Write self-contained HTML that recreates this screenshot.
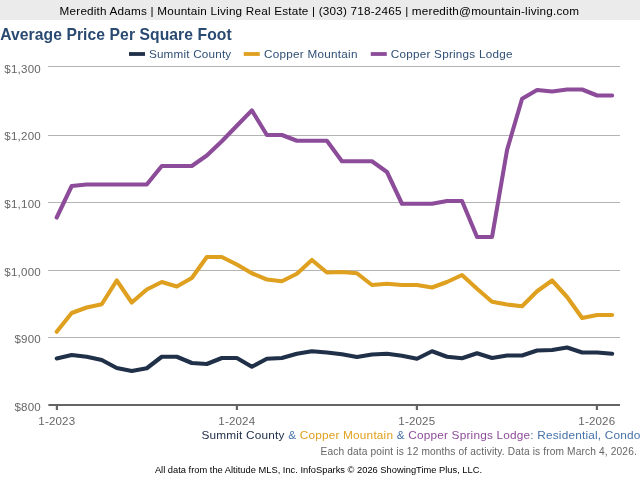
<!DOCTYPE html>
<html><head><meta charset="utf-8"><title>Average Price Per Square Foot</title>
<style>
html,body{margin:0;padding:0;background:#fff;}
body{width:640px;height:480px;overflow:hidden;}
svg{display:block;font-family:"Liberation Sans",Arial,Helvetica,sans-serif;}
svg text{white-space:pre;}
</style></head><body>
<svg width="640" height="480" viewBox="0 0 640 480">
<rect x="0" y="0" width="640" height="20" fill="#ebebeb"/>
<text x="59.6" y="14.6" font-size="11.72" letter-spacing="0.201" fill="#000">Meredith Adams | Mountain Living Real Estate | (303) 718-2465 | meredith@mountain-living.com</text>
<text x="0.2" y="39.5" font-size="15.66" letter-spacing="0.084" font-weight="bold" fill="#2a4a71">Average Price Per Square Foot</text>
<line x1="48" x2="620" y1="66.5" y2="66.5" stroke="#b4b4b4" stroke-width="1"/>
<line x1="48" x2="620" y1="135.5" y2="135.5" stroke="#b4b4b4" stroke-width="1"/>
<line x1="48" x2="620" y1="202.5" y2="202.5" stroke="#b4b4b4" stroke-width="1"/>
<line x1="48" x2="620" y1="270.5" y2="270.5" stroke="#b4b4b4" stroke-width="1"/>
<line x1="48" x2="620" y1="337.5" y2="337.5" stroke="#b4b4b4" stroke-width="1"/>
<rect x="48.4" y="404" width="571.6" height="2" fill="#646464"/>
<rect x="55.80" y="404" width="2.2" height="6" fill="#646464"/>
<text x="56.8" y="424.5" text-anchor="middle" font-size="11.55" letter-spacing="0.17" fill="#666">1-2023</text>
<rect x="235.80" y="404" width="2.2" height="6" fill="#646464"/>
<text x="236.8" y="424.5" text-anchor="middle" font-size="11.55" letter-spacing="0.17" fill="#666">1-2024</text>
<rect x="415.80" y="404" width="2.2" height="6" fill="#646464"/>
<text x="416.8" y="424.5" text-anchor="middle" font-size="11.55" letter-spacing="0.17" fill="#666">1-2025</text>
<rect x="595.80" y="404" width="2.2" height="6" fill="#646464"/>
<text x="596.8" y="424.5" text-anchor="middle" font-size="11.55" letter-spacing="0.17" fill="#666">1-2026</text>
<text x="40.9" y="72.90" text-anchor="end" font-size="11.55" letter-spacing="0.2" fill="#666">$1,300</text>
<text x="40.9" y="140.45" text-anchor="end" font-size="11.55" letter-spacing="0.2" fill="#666">$1,200</text>
<text x="40.9" y="208.00" text-anchor="end" font-size="11.55" letter-spacing="0.2" fill="#666">$1,100</text>
<text x="40.9" y="275.55" text-anchor="end" font-size="11.55" letter-spacing="0.2" fill="#666">$1,000</text>
<text x="40.9" y="343.10" text-anchor="end" font-size="11.55" letter-spacing="0.2" fill="#666">$900</text>
<text x="40.9" y="410.65" text-anchor="end" font-size="11.55" letter-spacing="0.2" fill="#666">$800</text>
<path d="M56.70 358.40 L71.71 355.00 L86.72 356.75 L101.74 360.00 L116.75 368.00 L131.76 371.00 L146.77 368.25 L161.78 356.75 L176.80 356.75 L191.81 363.00 L206.82 364.00 L221.83 358.00 L236.84 358.00 L251.86 366.75 L266.87 358.75 L281.88 358.00 L296.89 353.75 L311.90 351.25 L326.92 352.50 L341.93 354.25 L356.94 357.00 L371.95 354.50 L386.96 353.75 L401.98 355.75 L416.99 358.75 L432.00 351.25 L447.01 356.75 L462.02 358.25 L477.04 353.25 L492.05 358.00 L507.06 355.50 L522.07 355.50 L537.08 350.50 L552.10 350.00 L567.11 347.50 L582.12 352.50 L597.13 352.50 L612.14 353.75" fill="none" stroke="#203049" stroke-width="4.1" stroke-linejoin="round" stroke-linecap="round"/>
<path d="M56.70 331.75 L71.71 313.00 L86.72 307.50 L101.74 304.25 L116.75 280.50 L131.76 302.50 L146.77 289.50 L161.78 282.00 L176.80 286.50 L191.81 278.00 L206.82 257.00 L221.83 257.00 L236.84 264.50 L251.86 273.25 L266.87 279.50 L281.88 281.25 L296.89 273.75 L311.90 260.00 L326.92 272.50 L341.93 272.00 L356.94 273.25 L371.95 285.00 L386.96 283.75 L401.98 285.00 L416.99 285.00 L432.00 287.50 L447.01 282.00 L462.02 275.00 L477.04 288.75 L492.05 301.75 L507.06 304.50 L522.07 306.25 L537.08 291.25 L552.10 280.50 L567.11 297.00 L582.12 318.00 L597.13 315.00 L612.14 315.00" fill="none" stroke="#dfa01f" stroke-width="4.1" stroke-linejoin="round" stroke-linecap="round"/>
<path d="M56.70 217.50 L71.71 186.00 L86.72 184.50 L101.74 184.50 L116.75 184.50 L131.76 184.50 L146.77 184.50 L161.78 166.00 L176.80 166.00 L191.81 166.00 L206.82 155.50 L221.83 141.25 L236.84 125.80 L251.86 110.40 L266.87 135.00 L281.88 135.00 L296.89 140.75 L311.90 140.75 L326.92 140.75 L341.93 161.25 L356.94 161.25 L371.95 161.25 L386.96 172.00 L401.98 203.75 L416.99 203.75 L432.00 203.75 L447.01 201.00 L462.02 201.00 L477.04 237.00 L492.05 237.00 L507.06 150.00 L522.07 98.75 L537.08 90.00 L552.10 91.50 L567.11 89.50 L582.12 89.50 L597.13 95.50 L612.14 95.50" fill="none" stroke="#8c4c99" stroke-width="4.1" stroke-linejoin="round" stroke-linecap="round"/>
<rect x="129.00" y="52.1" width="16" height="3.8" fill="#203049"/>
<text x="148.90" y="58" font-size="11.71" letter-spacing="0.192" fill="#2f4f75">Summit County</text>
<rect x="243.75" y="52.1" width="16" height="3.8" fill="#dfa01f"/>
<text x="264.00" y="58" font-size="11.71" letter-spacing="0.259" fill="#2f4f75">Copper Mountain</text>
<rect x="370.75" y="52.1" width="16" height="3.8" fill="#8c4c99"/>
<text x="390.80" y="58" font-size="11.71" letter-spacing="0.238" fill="#2f4f75">Copper Springs Lodge</text>
<text x="201.4" y="438.6" font-size="11.82" letter-spacing="0.193" fill="#4572a7"><tspan fill="#203049">Summit County</tspan> &amp; <tspan fill="#dfa01f">Copper Mountain</tspan> &amp; <tspan fill="#8c4c99">Copper Springs Lodge</tspan>: Residential, Condo</text>
<text x="320.5" y="454.5" font-size="10.18" letter-spacing="0.139" fill="#666">Each data point is 12 months of activity. Data is from March 4, 2026.</text>
<text x="154.9" y="472.5" font-size="9.32" letter-spacing="0.003" fill="#000">All data from the Altitude MLS, Inc. InfoSparks © 2026 ShowingTime Plus, LLC.</text>
</svg>
</body></html>
